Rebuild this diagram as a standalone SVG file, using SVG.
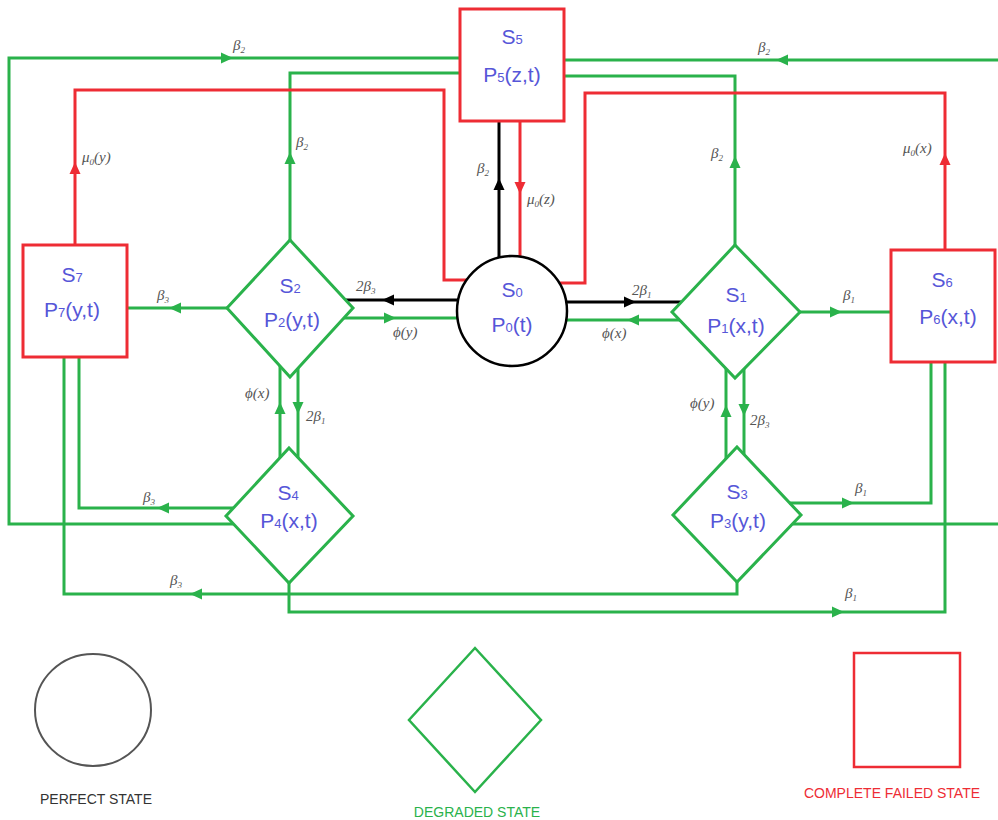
<svg xmlns="http://www.w3.org/2000/svg" xmlns:xlink="http://www.w3.org/1999/xlink" width="998" height="820" viewBox="0 0 998 820">
<style>
.g{stroke:#2ab24b;fill:none;stroke-width:3}
.r{stroke:#ee2c34;fill:none;stroke-width:3}
.k{stroke:#000;fill:none;stroke-width:3}
.fg{fill:#2ab24b}.fr{fill:#ee2c34}.fk{fill:#000}
.node{font-family:"Liberation Sans",Arial,sans-serif;font-size:21px;fill:#5656d8;text-anchor:middle}
.sub{font-size:13px}
.lab{font-family:"Liberation Serif","Times New Roman",serif;font-style:italic;font-size:15px;fill:#555}
.ls{font-size:9px}
.leg{font-family:"Liberation Sans",Arial,sans-serif;font-size:14px;text-anchor:middle}
</style>
<defs>
<path id="ah" d="M0,0 L-12,-5.5 L-12,5.5 Z"/>
</defs>
<rect width="998" height="820" fill="#fff"/>
<g id="connectors">
<!-- S4 -> S5 beta2 outer left loop -->
<path class="g" d="M233,524 H9 V58 H460"/>
<use href="#ah" class="fg" transform="translate(233,58)"/>
<!-- S3 -> S5 outer right loop -->
<path class="g" d="M793,524 H1001 V60 H564"/>
<use href="#ah" class="fg" transform="translate(776,60) rotate(180)"/>
<!-- S2 -> S5 -->
<path class="g" d="M290,240 V73 H460"/>
<use href="#ah" class="fg" transform="translate(290,152) rotate(-90)"/>
<!-- S1 -> S5 -->
<path class="g" d="M735,245 V76 H564"/>
<use href="#ah" class="fg" transform="translate(735,156) rotate(-90)"/>
<!-- S7 -> S0 mu0(y) -->
<path class="r" d="M75,245 V90 H444 V280 H467"/>
<use href="#ah" class="fr" transform="translate(75,162) rotate(-90)"/>
<!-- S6 -> S0 mu0(x) -->
<path class="r" d="M945,250 V93 H585 V283 H559"/>
<use href="#ah" class="fr" transform="translate(945,153) rotate(-90)"/>
<!-- S0 -> S5 beta2 -->
<path class="k" d="M499,258 V121"/>
<use href="#ah" class="fk" transform="translate(499,178) rotate(-90)"/>
<!-- S5 -> S0 mu0(z) -->
<path class="r" d="M520,121 V257"/>
<use href="#ah" class="fr" transform="translate(520,194) rotate(90)"/>
<!-- S0 -> S2 2beta3 -->
<path class="k" d="M458,300 H346"/>
<use href="#ah" class="fk" transform="translate(382,300) rotate(180)"/>
<!-- S2 -> S0 phi(y) -->
<path class="g" d="M344,318 H458"/>
<use href="#ah" class="fg" transform="translate(396,318)"/>
<!-- S0 -> S1 2beta1 -->
<path class="k" d="M566,302 H681"/>
<use href="#ah" class="fk" transform="translate(636,302)"/>
<!-- S1 -> S0 phi(x) -->
<path class="g" d="M680,320 H566"/>
<use href="#ah" class="fg" transform="translate(627,320) rotate(180)"/>
<!-- S2 -> S7 beta3 -->
<path class="g" d="M227,308 H127"/>
<use href="#ah" class="fg" transform="translate(169,308) rotate(180)"/>
<!-- S1 -> S6 beta1 -->
<path class="g" d="M800,312 H891"/>
<use href="#ah" class="fg" transform="translate(842,312)"/>
<!-- S2 -> S4 2beta1 -->
<path class="g" d="M298,368 V458"/>
<use href="#ah" class="fg" transform="translate(298,414) rotate(90)"/>
<!-- S4 -> S2 phi(x) -->
<path class="g" d="M280,458 V366"/>
<use href="#ah" class="fg" transform="translate(280,402) rotate(-90)"/>
<!-- S1 -> S3 2beta3 -->
<path class="g" d="M744,369 V454"/>
<use href="#ah" class="fg" transform="translate(744,416) rotate(90)"/>
<!-- S3 -> S1 phi(y) -->
<path class="g" d="M726,459 V369"/>
<use href="#ah" class="fg" transform="translate(726,405) rotate(-90)"/>
<!-- S4 -> S7 beta3 -->
<path class="g" d="M233,508 H79 V357"/>
<use href="#ah" class="fg" transform="translate(157,508) rotate(180)"/>
<!-- S3 -> S7 beta3 -->
<path class="g" d="M737,582 V594 H64 V357"/>
<use href="#ah" class="fg" transform="translate(190,594) rotate(180)"/>
<!-- S3 -> S6 beta1 -->
<path class="g" d="M789,503 H931 V362"/>
<use href="#ah" class="fg" transform="translate(854,503)"/>
<!-- S4 -> S6 beta1 -->
<path class="g" d="M289,583 V612 H945 V362"/>
<use href="#ah" class="fg" transform="translate(844,612)"/>
</g>
<g id="labels" class="lab">
<text x="233" y="50">β<tspan class="ls" dy="3">2</tspan></text>
<text x="296" y="147">β<tspan class="ls" dy="3">2</tspan></text>
<text x="82" y="162">μ<tspan class="ls" dy="3">0</tspan><tspan dy="-3">(y)</tspan></text>
<text x="477" y="173">β<tspan class="ls" dy="3">2</tspan></text>
<text x="758" y="52">β<tspan class="ls" dy="3">2</tspan></text>
<text x="711" y="158">β<tspan class="ls" dy="3">2</tspan></text>
<text x="903" y="153">μ<tspan class="ls" dy="3">0</tspan><tspan dy="-3">(x)</tspan></text>
<text x="527" y="204">μ<tspan class="ls" dy="3">0</tspan><tspan dy="-3">(z)</tspan></text>
<text x="157" y="300">β<tspan class="ls" dy="3">3</tspan></text>
<text x="356" y="291">2β<tspan class="ls" dy="3">3</tspan></text>
<text x="393" y="337">ϕ(y)</text>
<text x="245" y="398">ϕ(x)</text>
<text x="306" y="421">2β<tspan class="ls" dy="3">1</tspan></text>
<text x="632" y="295">2β<tspan class="ls" dy="3">1</tspan></text>
<text x="602" y="338">ϕ(x)</text>
<text x="843" y="300">β<tspan class="ls" dy="3">1</tspan></text>
<text x="690" y="408">ϕ(y)</text>
<text x="750" y="425">2β<tspan class="ls" dy="3">3</tspan></text>
<text x="143" y="502">β<tspan class="ls" dy="3">3</tspan></text>
<text x="170" y="585">β<tspan class="ls" dy="3">3</tspan></text>
<text x="855" y="493">β<tspan class="ls" dy="3">1</tspan></text>
<text x="845" y="598">β<tspan class="ls" dy="3">1</tspan></text>
</g>
<g id="S0">
<circle cx="512" cy="311" r="55" fill="#fff" stroke="#000" stroke-width="2.5"/>
<text class="node" x="512" y="297">S<tspan class="sub">0</tspan></text>
<text class="node" x="512" y="332">P<tspan class="sub">0</tspan>(t)</text>
</g>
<g id="S1">
<polygon points="735,245 800,312 735,378 672,312" fill="#fff" class="g"/>
<text class="node" x="736" y="302">S<tspan class="sub">1</tspan></text>
<text class="node" x="736" y="333">P<tspan class="sub">1</tspan>(x,t)</text>
</g>
<g id="S2">
<polygon points="290,240 353,308 290,377 227,308" fill="#fff" class="g"/>
<text class="node" x="290" y="293">S<tspan class="sub">2</tspan></text>
<text class="node" x="292" y="327">P<tspan class="sub">2</tspan>(y,t)</text>
</g>
<g id="S3">
<polygon points="737,447 801,515 737,582 673,515" fill="#fff" class="g"/>
<text class="node" x="737" y="499">S<tspan class="sub">3</tspan></text>
<text class="node" x="738" y="528">P<tspan class="sub">3</tspan>(y,t)</text>
</g>
<g id="S4">
<polygon points="289,448 353,516 289,583 226,516" fill="#fff" class="g"/>
<text class="node" x="288" y="500">S<tspan class="sub">4</tspan></text>
<text class="node" x="289" y="528">P<tspan class="sub">4</tspan>(x,t)</text>
</g>
<g id="S5">
<rect x="460" y="9" width="104" height="112" fill="#fff" class="r" stroke-width="2.5"/>
<text class="node" x="512" y="44">S<tspan class="sub">5</tspan></text>
<text class="node" x="512" y="82">P<tspan class="sub">5</tspan>(z,t)</text>
</g>
<g id="S6">
<rect x="891" y="250" width="104" height="112" fill="#fff" class="r" stroke-width="2.5"/>
<text class="node" x="942" y="287">S<tspan class="sub">6</tspan></text>
<text class="node" x="948" y="324">P<tspan class="sub">6</tspan>(x,t)</text>
</g>
<g id="S7">
<rect x="23" y="245" width="104" height="112" fill="#fff" class="r" stroke-width="2.5"/>
<text class="node" x="72" y="282">S<tspan class="sub">7</tspan></text>
<text class="node" x="72" y="317">P<tspan class="sub">7</tspan>(y,t)</text>
</g>
<g id="legend">
<ellipse cx="93" cy="710" rx="58" ry="56" fill="none" stroke="#555" stroke-width="2"/>
<text class="leg" x="96" y="804" fill="#333">PERFECT STATE</text>
<polygon points="475,648 541,720 475,792 409,720" fill="none" stroke="#2ab24b" stroke-width="2.5"/>
<text class="leg" x="477" y="817" fill="#2ab24b">DEGRADED  STATE</text>
<rect x="854" y="653" width="106" height="114" fill="none" stroke="#ee2c34" stroke-width="2.5"/>
<text class="leg" x="892" y="798" fill="#ee2c34">COMPLETE FAILED STATE</text>
</g>
</svg>
